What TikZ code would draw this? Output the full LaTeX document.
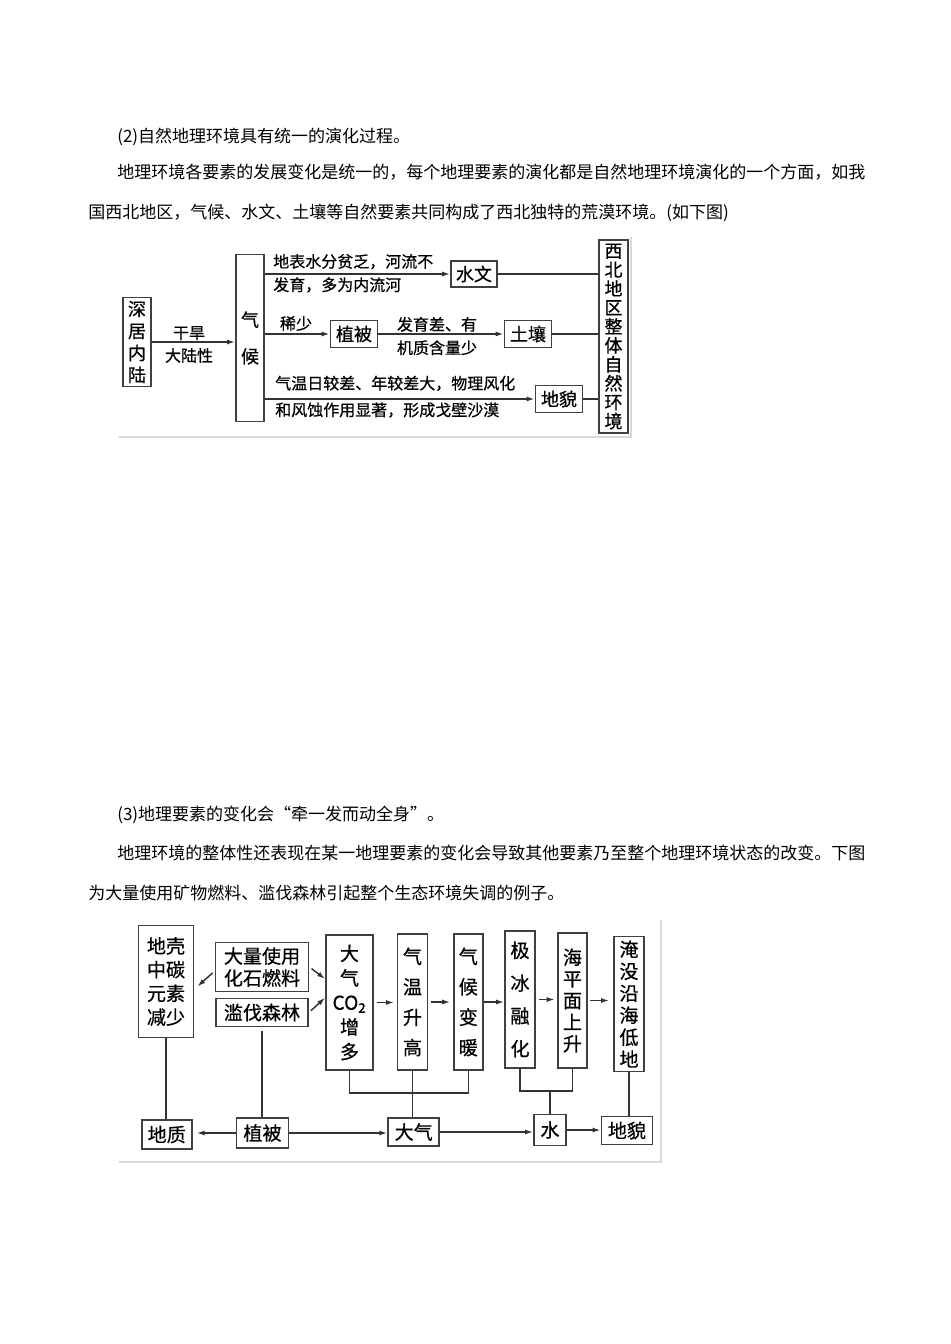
\documentclass[tikz,border=0pt]{standalone}
\usepackage{fontspec}
\setmainfont{Noto Sans CJK SC}
\newfontfamily\dgfont[FakeBold=0.6]{Noto Sans CJK SC}
\newcommand{\fs}[2]{\dgfont\fontsize{#1}{#2}\selectfont}
\usetikzlibrary{arrows.meta}
\tikzset{
    box/.style={draw=black!75,line width=1.4pt,inner sep=0pt,align=center,font=\fs{13.5}{15}},
    sz/.style n args={2}{minimum width=#1*0.75pt,minimum height=#2*0.75pt},
    lbl/.style={inner sep=0pt,font=\fs{12}{17.5}},
    txt/.style={inner sep=0pt,anchor=west,font=\fontsize{12.75}{15}\selectfont},
    arr/.style={draw=black!80,line width=1.1pt,-{Latex[length=6pt,width=3.8pt]}},
    ln/.style={draw=black!80,line width=1.1pt},
    frm/.style={draw=black!15,line width=0.8pt}
}

\begin{document}
\begin{tikzpicture}[x=0.75pt,y=-0.75pt]
\useasboundingbox (0,0) rectangle (950,1344);

\node[txt] (p2a) at (117,137) {(2)自然地理环境具有统一的演化过程。};
\node[txt] (p2b) at (117,172) {地理环境各要素的发展变化是统一的，每个地理要素的演化都是自然地理环境演化的一个方面，如我};
\node[txt] (p2c) at (88,213) {国西北地区，气候、水文、土壤等自然要素共同构成了西北独特的荒漠环境。(如下图)};

\node[box,sz={28}{89},font=\fs{13.5}{16.5}] (sjnl) at (137,342) {深\\居\\内\\陆};
\node[box,sz={28}{167},font=\fs{13.5}{27.5}] (qh) at (250,338) {气\\候};
\node[box,sz={46}{26}] (sw) at (474,274) {水文};
\node[box,sz={47}{27}] (zb) at (354,334) {植被};
\node[box,sz={47}{27}] (tr) at (528,334) {土壤};
\node[box,sz={47}{27}] (dm) at (559,399) {地貌};
\node[box,sz={29}{193},font=\fs{13.5}{14.2}] (xb) at (613.5,336.5) {西\\北\\地\\区\\整\\体\\自\\然\\环\\境};

\node[lbl,align=center,font=\fs{12}{17}] (gh) at (189,344.5) {干旱\\大陆性};
\node[lbl,align=left,anchor=west] (swl) at (273,273.3) {地表水分贫乏，河流不\\发育，多为内流河};
\node[lbl] (xs) at (296,323.5) {稀少};
\node[lbl,align=center] (trl) at (437,336) {发育差、有\\机质含量少};
\node[lbl,align=left,anchor=west,font=\fs{12}{20}] (dml) at (275,396.7) {气温日较差、年较差大，物理风化\\和风蚀作用显著，形成戈壁沙漠};

\draw[arr] (sjnl.east) -- (sjnl.east -| qh.west);
\draw[arr] (qh.east |- sw.west) -- (sw.west);
\draw[ln] (sw.east) -- (sw.east -| xb.west);
\draw[arr] (qh.east |- zb.west) -- (zb.west);
\draw[arr] (zb.east) -- (tr.west);
\draw[ln] (tr.east) -- (tr.east -| xb.west);
\draw[arr] (qh.east |- dm.west) -- (dm.west);
\draw[ln] (dm.east) -- (dm.east -| xb.west);
\draw[frm] (631,237) -- (631,437) -- (119,437);

\node[txt] (p3a) at (117,815) {(3)地理要素的变化会“牵一发而动全身”。};
\node[txt] (p3b) at (117,853) {地理环境的整体性还表现在某一地理要素的变化会导致其他要素乃至整个地理环境状态的改变。下图};
\node[txt] (p3c) at (88,893) {为大量使用矿物燃料、滥伐森林引起整个生态环境失调的例子。};

\node[box,sz={55}{112},font=\fs{14.3}{17.8}] (dk) at (166,981.5) {地壳\\中碳\\元素\\减少};
\node[box,sz={93}{49},font=\fs{14.3}{16.5}] (hs) at (262,967) {大量使用\\化石燃料};
\node[box,sz={92}{28},font=\fs{14.3}{16}] (slsl) at (262,1012.5) {滥伐森林};
\node[box,sz={47}{135},font=\fs{14.3}{18.4}] (co2) at (349.5,1002.5) {大\\气\\CO\textsubscript{2}\\增\\多};
\node[box,sz={30}{136},font=\fs{14.3}{22.8}] (qwsg) at (412.5,1002) {气\\温\\升\\高};
\node[box,sz={29}{136},font=\fs{14.3}{22.8}] (qhbn) at (468.3,1002) {气\\候\\变\\暖};
\node[box,sz={30}{137},font=\fs{14.3}{24.6}] (jbrh) at (520,999.5) {极\\冰\\融\\化};
\node[box,sz={28.5}{134.5},font=\fs{14.3}{16.2}] (hpm) at (572.5,1000.5) {海\\平\\面\\上\\升};
\node[box,sz={30}{135},font=\fs{14.3}{16.5}] (ym) at (629,1004) {淹\\没\\沿\\海\\低\\地};
\node[box,sz={50}{29},font=\fs{14.3}{16}] (dz) at (166.7,1134.5) {地质};
\node[box,sz={52}{30},font=\fs{14.3}{16}] (zb2) at (262.5,1133) {植被};
\node[box,sz={51}{28},font=\fs{14.3}{16}] (dq) at (413.7,1132) {大气};
\node[box,sz={32}{31},font=\fs{14.3}{16}] (shui) at (550,1130) {水};
\node[box,sz={51}{28},font=\fs{14.3}{16}] (dm2) at (627,1130.5) {地貌};

\draw[arr,shorten <=2pt,shorten >=3pt] (hs.185) -- (dk.345);
\draw[arr,shorten <=2pt] (hs.east) -- (co2.136);
\draw[arr,shorten <=2pt] (slsl.east) -- (co2.169);
\draw[arr,shorten <=2pt,shorten >=2pt] (co2.east) -- (co2.east -| qwsg.west);
\draw[arr,shorten <=2pt,shorten >=2pt] (qwsg.east) -- (qwsg.east -| qhbn.west);
\draw[arr] (qhbn.east) -- (qhbn.east -| jbrh.west);
\draw[arr,shorten <=2pt,shorten >=2pt] (jbrh.east) -- (jbrh.east -| hpm.west);
\draw[arr,shorten <=2pt,shorten >=3pt] (hpm.east) -- (hpm.east -| ym.west);

\draw[arr,shorten >=3pt] (zb2.west) -- (zb2.west -| dz.east);
\draw[arr] (zb2.east) -- (zb2.east -| dq.west);
\draw[arr] (dq.east) -- (dq.east -| shui.west);
\draw[arr] (shui.east) -- (shui.east -| dm2.west);
\draw[ln] (dk.south) -- (dk.south |- dz.north);
\draw[ln,shorten <=3pt] (slsl.south) -- (slsl.south |- zb2.north);
\draw[ln] (ym.south) -- (ym.south |- dm2.north);

\coordinate (jA) at (0,1093);
\draw[ln] (co2.south) -- (co2.south |- jA) -- (qhbn.south |- jA) -- (qhbn.south);
\draw[ln] (qwsg.south) -- (qwsg.south |- dq.north);
\coordinate (jB) at (0,1091);
\draw[ln] (jbrh.south) -- (jbrh.south |- jB) -- (hpm.south |- jB) -- (hpm.south);
\draw[ln] (shui.north |- jB) -- (shui.north);
\draw[frm] (661,920) -- (661,1162) -- (119,1162);
\end{tikzpicture}
\end{document}
